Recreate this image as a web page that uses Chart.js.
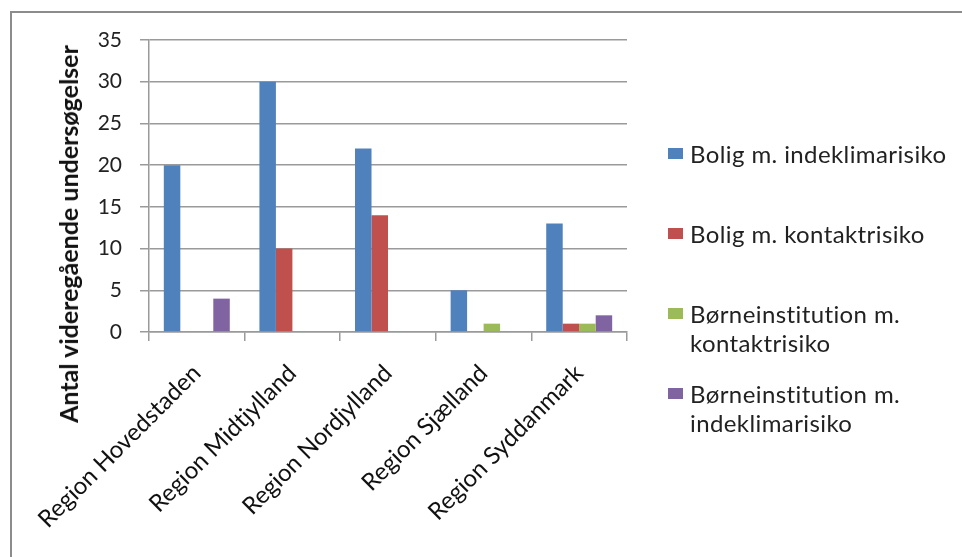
<!DOCTYPE html>
<html>
<head>
<meta charset="utf-8">
<script src="https://cdn.jsdelivr.net/npm/chart.js@4/dist/chart.umd.min.js"></script>
<style>
    html, body { margin:0; padding:0; background:#fff; overflow:hidden; }
    #wrap { position:relative; width:962px; height:557px; font-family:Lato, "Open Sans", sans-serif; }
    #frame { position:absolute; left:10px; top:11px; width:1000px; height:600px; border:2px solid #8c8c8c; box-sizing:border-box; }
    #myChart { position:absolute; left:0; top:0; }
    #ytitle { position:absolute; left:68px; top:234px; transform:translate(-50%,-50%) rotate(-90deg);
              white-space:nowrap; font-weight:bold; font-size:25px; color:#111; }
    #legend { position:absolute; left:668px; top:0; font-size:24px; letter-spacing:0.4px; color:#222; }
    .item { position:absolute; left:0; white-space:nowrap; line-height:29px; }
    .box { position:absolute; left:0; width:15px; height:11px; }
    .txt { position:absolute; left:22px; top:0; }
</style>
</head>
<body>
<div id="wrap">
    <div id="frame"></div>
    <canvas id="myChart" width="962" height="557"></canvas>
    <div id="ytitle">Antal videregående undersøgelser</div>
    <div id="legend"></div>
</div>
<script>
// chart data
const regions = ['Region Hovedstaden', 'Region Midtjylland', 'Region Nordjylland', 'Region Sjælland', 'Region Syddanmark'];
const seriesNames = [
    ['Bolig m. indeklimarisiko'],
    ['Bolig m. kontaktrisiko'],
    ['Børneinstitution m.', 'kontaktrisiko'],
    ['Børneinstitution m.', 'indeklimarisiko']
];
const boligIndeklima = [20, 30, 22, 5, 13];
const boligKontakt = [0, 10, 14, 0, 1];
const boernKontakt = [0, 0, 0, 1, 1];
const boernIndeklima = [4, 0, 0, 0, 2];
const yTicks = [0, 5, 10, 15, 20, 25, 30, 35];

document.addEventListener("DOMContentLoaded", function(){

    const colors = ['#4f81bd', '#c0504d', '#9bbb59', '#8064a2'];
    const values = [boligIndeklima, boligKontakt, boernKontakt, boernIndeklima];

    const ctx = document.getElementById('myChart');
    const myChart = new Chart(ctx, {
        type: 'bar',
        data: {
            labels: regions,
            datasets: values.map(function(v, i){
                return {
                    label: seriesNames[i].join(' '),
                    data: v,
                    backgroundColor: colors[i],
                    borderWidth: 0,
                    categoryPercentage: 0.69,
                    barPercentage: 1.0
                }
            })
        },
        options: {
            responsive: false,
            animation: false,
            layout: { padding: { left: 0, top: 40, right: 335, bottom: 0 } },
            plugins: {
                legend: { display: false },
                tooltip: { enabled: false }
            },
            scales: {
                x: {
                    grid: { drawOnChartArea: false, drawTicks: true, tickLength: 9, color: '#9a9a9a', lineWidth: 1.5, offset: true },
                    border: { color: '#9a9a9a', width: 1.5 },
                    ticks: { minRotation: 45, maxRotation: 45, padding: 18, color: '#111',
                             font: { family: 'Lato', size: 24 } },
                    afterFit: function(scale){ scale.height = 225 }
                },
                y: {
                    min: 0,
                    max: 35,
                    afterBuildTicks: function(scale){ scale.ticks = yTicks.map(function(v){ return { value: v } }) },
                    grid: { color: '#9a9a9a', lineWidth: 1.5, tickLength: 9 },
                    border: { color: '#9a9a9a', width: 1.5 },
                    ticks: { padding: 18, color: '#222', font: { family: 'Lato', size: 21 } },
                    afterFit: function(scale){ scale.width = 149 }
                }
            }
        }
    });

    // html legend, built from the series names
    const legend = document.getElementById('legend');
    const tops = [139, 219, 299, 379];
    seriesNames.forEach(function(lines, i){
        const item = document.createElement('div');
        item.className = 'item';
        item.style.top = tops[i] + 'px';
        const box = document.createElement('div');
        box.className = 'box';
        box.style.background = colors[i];
        box.style.top = '9px';
        const txt = document.createElement('div');
        txt.className = 'txt';
        txt.innerHTML = lines.join('<br>');
        item.appendChild(box);
        item.appendChild(txt);
        legend.appendChild(item);
    });
});
</script>
</body>
</html>
